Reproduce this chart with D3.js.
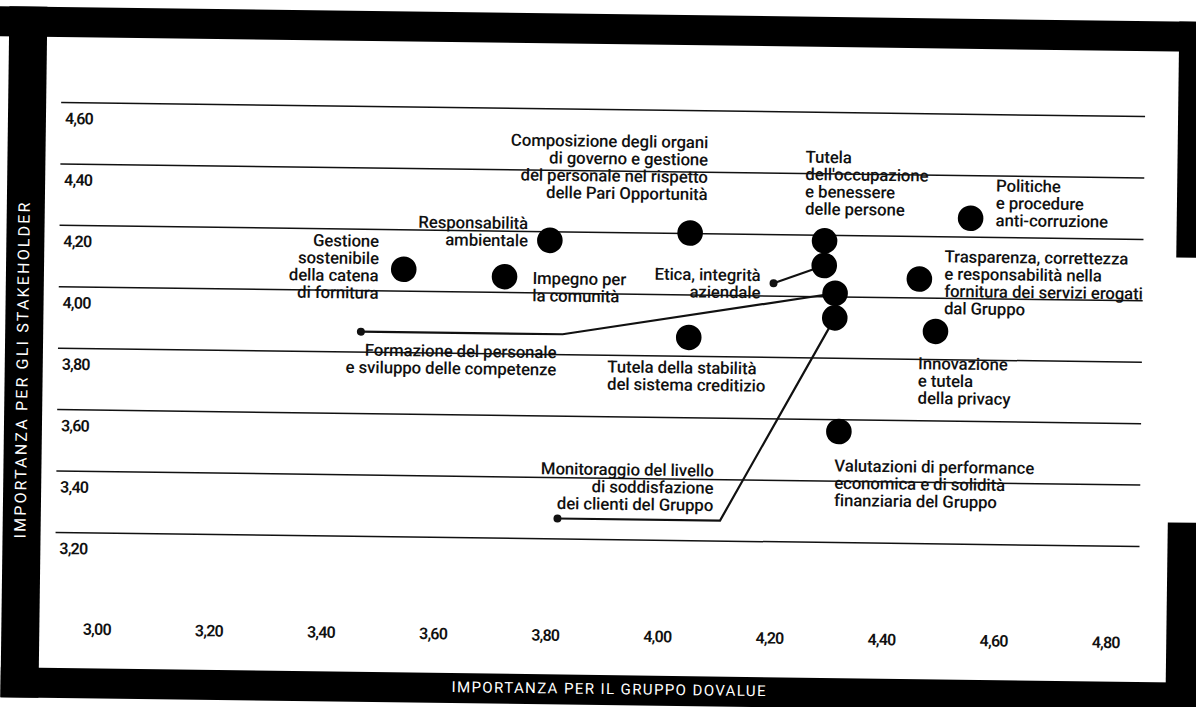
<!DOCTYPE html>
<html><head><meta charset="utf-8">
<script src="https://cdn.jsdelivr.net/npm/d3@7/dist/d3.min.js"></script>
<style>
html,body{margin:0;padding:0;background:#fff;}
svg{display:block;}
text{font-family:Roboto,"Noto Sans",sans-serif;}
</style></head><body>
<svg id="chart" width="1196" height="707"></svg>
<script>
// ---------- DATA ----------
const topics = [
  "Gestione sostenibile della catena di fornitura",
  "Impegno per la comunità",
  "Responsabilità ambientale",
  "Composizione degli organi di governo e gestione del personale nel rispetto delle Pari Opportunità",
  "Tutela della stabilità del sistema creditizio",
  "Tutela dell'occupazione e benessere delle persone",
  "Etica, integrità aziendale",
  "Formazione del personale e sviluppo delle competenze",
  "Monitoraggio del livello di soddisfazione dei clienti del Gruppo",
  "Valutazioni di performance economica e di solidità finanziaria del Gruppo",
  "Politiche e procedure anti-corruzione",
  "Trasparenza, correttezza e responsabilità nella fornitura dei servizi erogati dal Gruppo",
  "Innovazione e tutela della privacy"
];
const groupImportance       = [3.54, 3.72, 3.80, 4.05, 4.05, 4.29, 4.29, 4.31, 4.31, 4.32, 4.55, 4.46, 4.49];
const stakeholderImportance = [4.07, 4.05, 4.17, 4.20, 3.86, 4.18, 4.10, 4.01, 3.93, 3.56, 4.26, 4.06, 3.89];
const topicLines = [
  ["Gestione","sostenibile","della catena","di fornitura"],
  ["Impegno per","la comunità"],
  ["Responsabilità","ambientale"],
  ["Composizione degli organi","di governo e gestione","del personale nel rispetto","delle Pari Opportunità"],
  ["Tutela della stabilità","del sistema creditizio"],
  ["Tutela","dell'occupazione","e benessere","delle persone"],
  ["Etica, integrità","aziendale"],
  ["Formazione del personale","e sviluppo delle competenze"],
  ["Monitoraggio del livello","di soddisfazione","dei clienti del Gruppo"],
  ["Valutazioni di performance","economica e di solidità","finanziaria del Gruppo"],
  ["Politiche","e procedure","anti-corruzione"],
  ["Trasparenza, correttezza","e responsabilità nella","fornitura dei servizi erogati","dal Gruppo"],
  ["Innovazione","e tutela","della privacy"]
];
// leader lines (index into topics, start point, optional elbow) in data units
const leaderTopic  = [6, 7, 8];
const leaderStartX = [4.20, 3.465, 3.82];
const leaderStartY = [4.04, 3.865, 3.265];
const leaderElbowX = [null, 3.825, 4.11];
const leaderElbowY = [null, 3.865, 3.265];

const xTicks = [3.0, 3.2, 3.4, 3.6, 3.8, 4.0, 4.2, 4.4, 4.6, 4.8];
const yTicks = [3.2, 3.4, 3.6, 3.8, 4.0, 4.2, 4.4, 4.6];
const xTitle = "IMPORTANZA PER IL GRUPPO DOVALUE";
const yTitle = "IMPORTANZA PER GLI STAKEHOLDER";

// ---------- LAYOUT (label placement relative to a reference point) ----------
const labelLayout = [
  {ref:"dot",   anchor:"end",   dx:-25, dy:-22},
  {ref:"dot",   anchor:"start", dx: 28, dy:  7},
  {ref:"dot",   anchor:"end",   dx:-22, dy:-11},
  {ref:"dot",   anchor:"end",   dx: 17, dy:-85},
  {ref:"dot",   anchor:"start", dx:-81, dy: 36},
  {ref:"dot",   anchor:"start", dx:-20, dy:-78},
  {ref:"start", anchor:"end",   dx:-13, dy: -2},
  {ref:"elbow", anchor:"end",   dx: -6, dy: 24},
  {ref:"elbow", anchor:"end",   dx: -7, dy:-44},
  {ref:"dot",   anchor:"start", dx: -4, dy: 40},
  {ref:"dot",   anchor:"start", dx: 25, dy:-27},
  {ref:"dot",   anchor:"start", dx: 25, dy:-17},
  {ref:"dot",   anchor:"start", dx:-17, dy: 38}
];
const lineH = 17.3;

// ---------- DRAW ----------
const svg = d3.select("#chart");
const g = svg.append("g").attr("transform", "rotate(0.745,600,350)");

const x = d3.scaleLinear().domain([3.0, 4.8]).range([100, 1109]);
const y = d3.scaleLinear().domain([3.2, 4.6]).range([539, 109]);
const fmt = v => d3.format(".2f")(v).replace(".", ",");

// frame
const ink = "#000";
g.append("rect").attr("x", -40).attr("y", 14).attr("width", 1300).attr("height", 30).attr("fill", ink);
g.append("rect").attr("x", 5).attr("y", 14).attr("width", 38).attr("height", 691).attr("fill", ink);
g.append("rect").attr("x", 5).attr("y", 675).attr("width", 1260).attr("height", 30).attr("fill", ink);
g.append("rect").attr("x", 1175).attr("y", 14).attr("width", 80).attr("height", 236).attr("fill", ink);
g.append("rect").attr("x", 1170).attr("y", 515).attr("width", 80).attr("height", 190).attr("fill", ink);

// axis titles
g.append("text").attr("x", 613).attr("y", 694).attr("text-anchor", "middle")
  .attr("fill", "#fff").attr("font-size", 15).attr("font-weight", 400)
  .attr("textLength", 314).attr("lengthAdjust", "spacing").text(xTitle);
g.append("text").attr("transform", "translate(28,378) rotate(-90)").attr("text-anchor", "middle")
  .attr("fill", "#fff").attr("font-size", 16).attr("font-weight", 400)
  .attr("textLength", 336).attr("lengthAdjust", "spacing").text(yTitle);

// y gridlines via axis
const yAxis = d3.axisLeft(y).tickValues(yTicks).tickSize(-(1142 - 58)).tickFormat("");
const ya = g.append("g").attr("transform", "translate(58,0)").call(yAxis);
ya.select(".domain").remove();
ya.selectAll(".tick line").attr("stroke", "#111").attr("stroke-width", 1.5);

// y tick labels (below line, left)
g.selectAll(".ylab").data(yTicks).join("text").attr("class", "ylab")
  .attr("x", 62).attr("y", d => y(d) + 22)
  .attr("font-size", 16).attr("font-weight", 600).attr("letter-spacing", -0.8)
  .attr("fill", "#111").text(fmt);

// x tick labels via axis
const xAxis = d3.axisBottom(x).tickValues(xTicks).tickSize(0).tickFormat(fmt);
const xa = g.append("g").attr("transform", "translate(0,627)").call(xAxis);
xa.select(".domain").remove();
xa.selectAll(".tick text").attr("font-family", "Roboto, sans-serif").attr("font-size", 16)
  .attr("font-weight", 600).attr("letter-spacing", -0.8).attr("fill", "#111");

// leader lines
leaderTopic.forEach((t, i) => {
  const pts = [[leaderStartX[i], leaderStartY[i]]];
  if (leaderElbowX[i] != null) pts.push([leaderElbowX[i], leaderElbowY[i]]);
  pts.push([groupImportance[t], stakeholderImportance[t]]);
  g.append("path").attr("d", d3.line().x(d => x(d[0])).y(d => y(d[1]))(pts))
    .attr("fill", "none").attr("stroke", "#111").attr("stroke-width", 2.2);
  g.append("circle").attr("cx", x(leaderStartX[i])).attr("cy", y(leaderStartY[i]))
    .attr("r", 4).attr("fill", "#111");
});

// dots
g.selectAll(".dot").data(topics).join("circle").attr("class", "dot")
  .attr("cx", (d, i) => x(groupImportance[i])).attr("cy", (d, i) => y(stakeholderImportance[i]))
  .attr("r", 12.8).attr("fill", "#000");

// labels
topics.forEach((t, i) => {
  const L = labelLayout[i];
  let px, py;
  const li = leaderTopic.indexOf(i);
  if (L.ref === "start") { px = x(leaderStartX[li]); py = y(leaderStartY[li]); }
  else if (L.ref === "elbow") { px = x(leaderElbowX[li]); py = y(leaderElbowY[li]); }
  else { px = x(groupImportance[i]); py = y(stakeholderImportance[i]); }
  const txt = g.append("text").attr("text-anchor", L.anchor)
    .attr("font-size", 16.8).attr("font-weight", 500).attr("letter-spacing", -0.1)
    .attr("fill", "#111");
  topicLines[i].forEach((ln, k) => {
    txt.append("tspan").attr("x", px + L.dx).attr("y", py + L.dy + k * lineH).text(ln);
  });
});
</script>
</body></html>
